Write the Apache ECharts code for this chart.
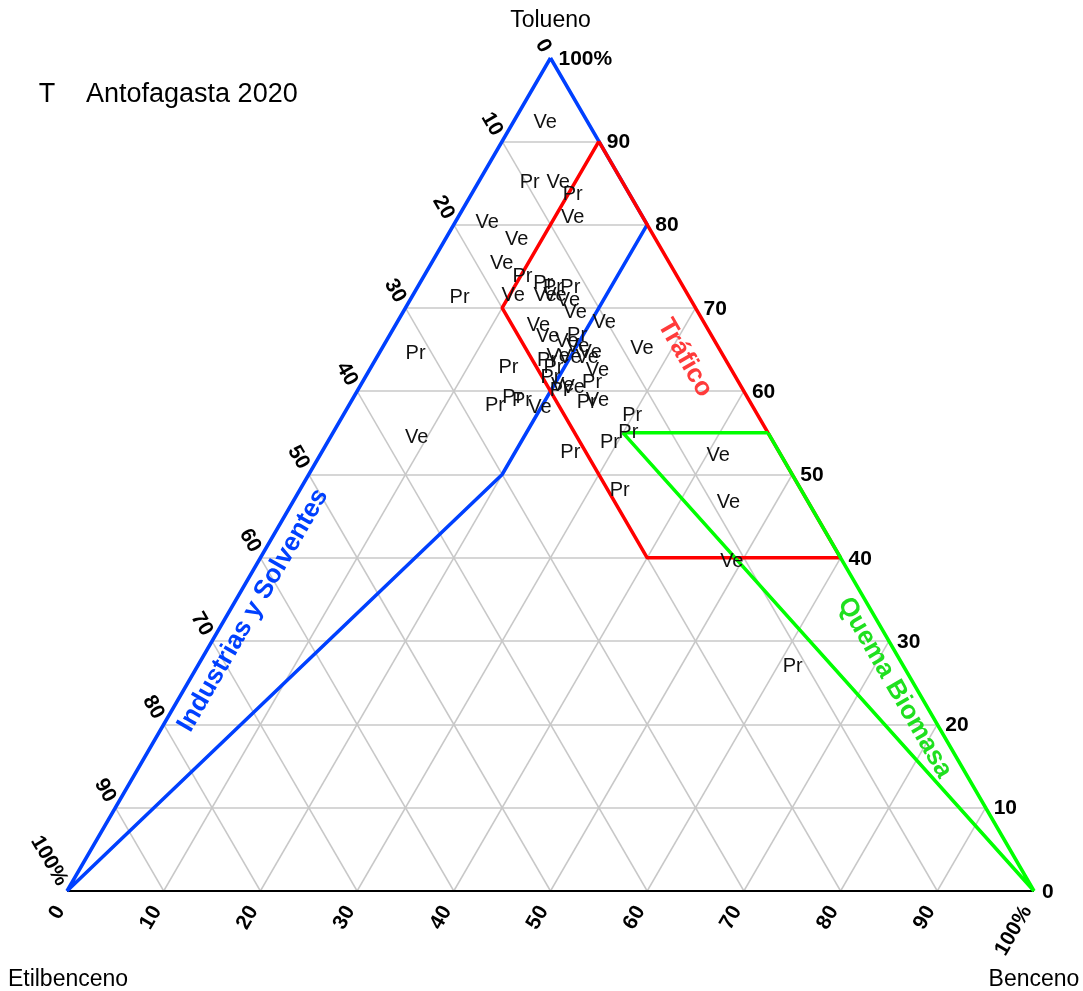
<!DOCTYPE html>
<html>
<head>
<meta charset="utf-8">
<script src="https://cdn.jsdelivr.net/npm/echarts@6/dist/echarts.min.js"></script>
<style>
html,body{margin:0;padding:0;background:#fff}
#chart{width:1083px;height:991px}
</style>
</head>
<body>
<div id="chart"></div>
<script>
// Sample site of each measurement (Ve / Pr)
const sitio = ['Ve','Pr','Ve','Pr','Ve','Ve','Ve','Ve','Pr','Ve','Pr','Pr','Pr','Pr','Ve','Ve','Ve','Ve','Ve','Ve',
  'Ve','Pr','Ve','Ve','Ve','Pr','Ve','Ve','Ve','Pr','Ve','Ve','Pr','Pr','Ve','Pr','Ve','Pr','Pr','Pr',
  'Pr','Ve','Pr','Ve','Pr','Pr','Pr','Pr','Ve','Pr','Ve','Ve','Pr','Pr','Ve'];
// Composition (%) of each sample
const benceno = [3.3,5.3,8.3,10.5,3.3,11.9,7.4,7.3,10.2,10.4,5.0,12.8,14.0,15.8,13.7,14.7,16.4,17.8,21.4,14.8,
  16.4,19.4,18.7,20.1,21.8,17.8,18.7,20.0,21.8,18.9,23.6,26.9,14.2,19.2,20.9,20.9,22.1,23.8,15.1,16.4,
  17.6,19.9,24.4,25.4,29.9,30.5,29.2,25.7,41.2,33.1,45.1,49.0,61.6,3.8,8.9];
const tolueno = [92.3,85.1,85.0,83.6,80.3,80.8,78.2,75.3,73.8,71.5,71.2,72.9,72.5,72.5,71.5,71.5,70.9,69.5,68.3,67.9,
  66.6,66.7,66.0,65.4,64.6,63.7,64.2,64.0,64.0,62.8,62.5,65.1,62.9,61.6,60.7,60.1,60.5,61.0,58.3,59.3,
  58.9,58.0,58.7,58.9,57.1,55.1,53.9,52.7,52.3,48.1,46.6,39.5,26.9,64.5,54.5];
const etilbenceno = [4.4,9.6,6.7,5.9,16.4,7.3,14.4,17.4,16.0,18.1,23.8,14.3,13.5,11.7,14.8,13.8,12.7,12.7,10.3,17.3,
  17.0,13.9,15.3,14.5,13.6,18.5,17.1,16.0,14.2,18.3,13.9,8.0,22.9,19.2,18.4,19.0,17.4,15.2,26.6,24.3,
  23.5,22.1,16.9,15.7,13.0,14.4,16.9,21.6,6.5,18.8,8.3,11.5,11.5,31.7,36.6];

// Tick values and their labels (shared by the three sides)
const tickValues = [0,10,20,30,40,50,60,70,80,90,100];
const tickLabels = ['0','10','20','30','40','50','60','70','80','90','100%'];

// Source zones, vertices as [benceno, tolueno, etilbenceno]
const zonaIndustrias = [[0,100,0],[20,80,0],[20,50,30],[0,0,100],[0,100,0]];
const zonaTrafico = [[10,90,0],[60,40,0],[40,40,20],[10,70,20],[10,90,0]];
const zonaBiomasa = [[45,55,0],[100,0,0],[30,55,15],[45,55,0]];

const FONT = '"Liberation Sans", Arial, Helvetica, sans-serif';
const BLUE = '#0040ff', RED = '#ff0000', GREEN = '#00ff00';

// ternary (B, T, E) -> cartesian (x, y) on 0..100 axes
function tern(b, t, e) {
  const s = b + t + e;
  b = b / s * 100; t = t / s * 100;
  return [b + t / 2, t];
}

// reference grid every 10 %
const gridLines = [];
for (let k = 10; k < 100; k += 10) {
  gridLines.push({coords: [tern(100 - k, k, 0), tern(0, k, 100 - k)]});      // constant tolueno
  gridLines.push({coords: [tern(k, 0, 100 - k), tern(k, 100 - k, 0)]});      // constant benceno
  gridLines.push({coords: [tern(100 - k, 0, k), tern(0, 100 - k, k)]});      // constant etilbenceno
}

// text annotations anchored to ternary positions
const TICK_FONT = 'bold 21px ' + FONT;
const texts = [];
tickValues.forEach((k, i) => {
  texts.push({p: [100 - k, k, 0], text: tickLabels[i], dx: 8, dy: 1, rot: 0, align: 'left',
    font: TICK_FONT, color: '#000'});
  texts.push({p: [0, 100 - k, k], text: tickLabels[i], dx: -4.5, dy: -7, rot: -60, align: 'right',
    font: TICK_FONT, color: '#000'});
  texts.push({p: [k, 0, 100 - k], text: tickLabels[i], dx: -7, dy: 16.5, rot: 60, align: 'right',
    font: TICK_FONT, color: '#000'});
});
texts.push({p: [0, 100, 0], text: 'Tolueno', dx: 0, dy: -37, rot: 0, align: 'center', font: '23px ' + FONT, color: '#000'});
texts.push({p: [0, 0, 100], text: 'Etilbenceno', dx: 1, dy: 89, rot: 0, align: 'center', font: '23px ' + FONT, color: '#000'});
texts.push({p: [100, 0, 0], text: 'Benceno', dx: 0, dy: 89, rot: 0, align: 'center', font: '23px ' + FONT, color: '#000'});
texts.push({p: [2.4, 33.7, 63.9], text: 'Industrias y Solventes', dx: 0, dy: 0, rot: 60, align: 'center',
  font: 'bold 26px ' + FONT, color: BLUE});
texts.push({p: [31.9, 64.0, 4.1], text: 'Tráfico', dx: 0, dy: 0, rot: -60, align: 'center',
  font: 'bold 26px ' + FONT, color: '#ff3b3b'});
texts.push({p: [73.4, 24.4, 2.2], text: 'Quema Biomasa', dx: 0, dy: 0, rot: -60, align: 'center',
  font: 'bold 26px ' + FONT, color: '#1fe01f'});

function polygon(pts, color, z) {
  return {
    type: 'line', data: pts.map(p => tern(p[0], p[1], p[2])), symbol: 'none', clip: false,
    lineStyle: {color: color, width: 3.5}, z: z, silent: true, animation: false
  };
}

const chart = echarts.init(document.getElementById('chart'), null, {renderer: 'canvas'});
chart.setOption({
  backgroundColor: '#fff',
  animation: false,
  grid: {left: 67, top: 58, width: 967, height: 833},
  xAxis: {type: 'value', min: 0, max: 100, show: false},
  yAxis: {type: 'value', min: 0, max: 100, show: false},
  graphic: [
    {type: 'text', x: 47, y: 95, style: {text: 'T', font: '27px ' + FONT, fill: '#000', align: 'center', verticalAlign: 'middle'}},
    {type: 'text', x: 86, y: 95, style: {text: 'Antofagasta 2020', font: '27px ' + FONT, fill: '#000', align: 'left', verticalAlign: 'middle'}}
  ],
  series: [
    {
      type: 'lines', coordinateSystem: 'cartesian2d', data: gridLines, silent: true, clip: false, z: 1,
      lineStyle: {color: '#c8c8c8', width: 1.5, opacity: 1}, animation: false
    },
    {
      type: 'lines', coordinateSystem: 'cartesian2d', silent: true, clip: false, z: 2,
      data: [{coords: [tern(0, 0, 100), tern(100, 0, 0)]}],
      lineStyle: {color: '#000', width: 2, opacity: 1}, animation: false
    },
    polygon(zonaIndustrias, BLUE, 3),
    polygon(zonaTrafico, RED, 4),
    polygon(zonaBiomasa, GREEN, 5),
    {
      // each sample drawn as its site code, centred on its composition
      type: 'custom', name: 'muestras', z: 10, silent: true, clip: false, animation: false,
      data: sitio.map((s, i) => tern(benceno[i], tolueno[i], etilbenceno[i])),
      encode: {x: 0, y: 1},
      renderItem: function (params, api) {
        const c = api.coord([api.value(0), api.value(1)]);
        return {
          type: 'text', x: c[0], y: c[1],
          style: {text: sitio[params.dataIndex], fill: '#111', font: '20px ' + FONT, align: 'center', verticalAlign: 'middle'}
        };
      }
    },
    {
      type: 'custom', z: 11, silent: true, clip: false, animation: false,
      data: texts.map(d => tern(d.p[0], d.p[1], d.p[2])),
      encode: {x: 0, y: 1},
      renderItem: function (params, api) {
        const d = texts[params.dataIndex];
        const c = api.coord([api.value(0), api.value(1)]);
        return {
          type: 'text', x: c[0] + d.dx, y: c[1] + d.dy, rotation: d.rot * Math.PI / 180,
          style: {text: d.text, fill: d.color, font: d.font, align: d.align, verticalAlign: 'middle'}
        };
      }
    }
  ]
});
</script>
</body>
</html>
